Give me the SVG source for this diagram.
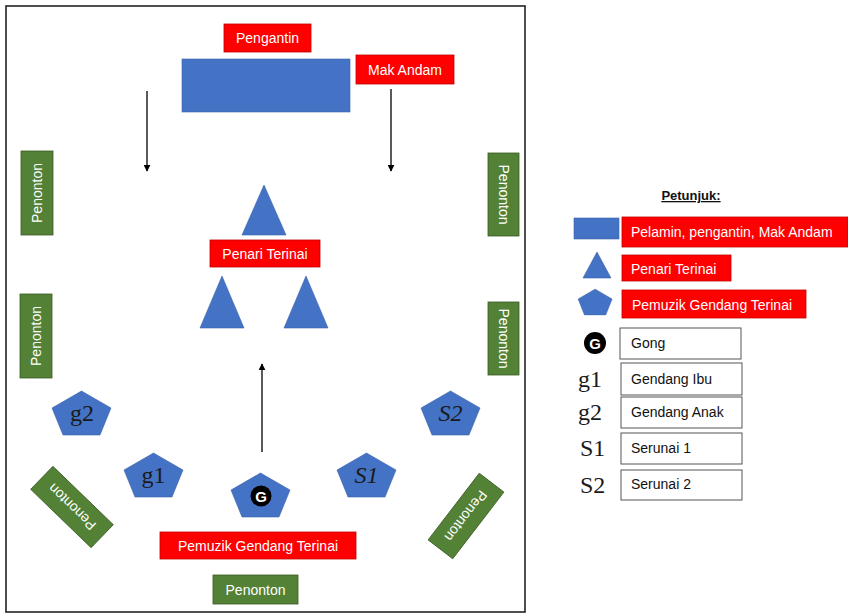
<svg xmlns="http://www.w3.org/2000/svg" xmlns:xlink="http://www.w3.org/1999/xlink" width="848" height="614" viewBox="0 0 848 614">
<style>
.lbl{font-family:"Liberation Sans",Arial,sans-serif;font-size:14px;fill:#fff}
.dark{font-family:"Liberation Sans",Arial,sans-serif;font-size:14px;fill:#111}
.red{fill:#ff0000;stroke:#c00000;stroke-width:0.8}
.grn{fill:#538135;stroke:#3a5a24;stroke-width:0.8}
.blue{fill:#4472c4;stroke:#3a62aa;stroke-width:0.6}
.box{fill:#fff;stroke:#555;stroke-width:1}
.sym{font-family:"Liberation Serif","Times New Roman",serif;font-size:24px;fill:#1a1a1a}
.conn{stroke:#000;stroke-width:1.3;fill:none;marker-end:url(#ah)}
</style>
<defs>
<marker id="ah" viewBox="0 0 10 10" refX="9" refY="5" markerWidth="7" markerHeight="7" orient="auto" markerUnits="userSpaceOnUse">
<path d="M0,0 L10,5 L0,10 z" fill="#000"/>
</marker>
<polygon id="pent" points="29.5,0 59,17 48,44 11,44 0,17"/>
<polygon id="tri" points="22,0 44,50 0,50"/>
</defs>
<rect x="6" y="6" width="519" height="606" fill="#fff" stroke="#222" stroke-width="1.6"/>

<g id="pengantin"><rect class="red" x="224" y="24" width="87" height="28"/><text class="lbl" x="267.5" y="43" text-anchor="middle">Pengantin</text></g>
<g id="pelamin"><rect class="blue" x="182" y="59" width="168" height="53"/></g>
<g id="makandam"><rect class="red" x="356" y="55" width="98" height="29"/><text class="lbl" x="405" y="74.5" text-anchor="middle">Mak Andam</text></g>

<g id="penonton-l1"><rect class="grn" x="21" y="151" width="32" height="84"/><text class="lbl" transform="translate(42,193) rotate(-90)" text-anchor="middle">Penonton</text></g>
<g id="penonton-l2"><rect class="grn" x="20" y="294" width="32" height="84"/><text class="lbl" transform="translate(41,336) rotate(-90)" text-anchor="middle">Penonton</text></g>
<g id="penonton-r1"><rect class="grn" x="488" y="153" width="31" height="83"/><text class="lbl" transform="translate(498.5,194.5) rotate(90)" text-anchor="middle">Penonton</text></g>
<g id="penonton-r2"><rect class="grn" x="488" y="302" width="31" height="73"/><text class="lbl" transform="translate(498.5,338.5) rotate(90)" text-anchor="middle">Penonton</text></g>

<g id="penari-1"><use xlink:href="#tri" class="blue" x="242" y="185"/></g>
<g id="penari-label"><rect class="red" x="210" y="240" width="110" height="27"/><text class="lbl" x="265" y="258.5" text-anchor="middle">Penari Terinai</text></g>
<g id="penari-2"><polygon class="blue" points="222,276 244,328 200,328"/></g>
<g id="penari-3"><polygon class="blue" points="306,276 328,328 284,328"/></g>

<g id="g2"><use xlink:href="#pent" class="blue" x="52" y="391"/><text class="sym" x="82" y="421" text-anchor="middle">g2</text></g>
<g id="g1"><use xlink:href="#pent" class="blue" x="124" y="453"/><text class="sym" x="153.5" y="483" text-anchor="middle">g1</text></g>
<g id="gong"><use xlink:href="#pent" class="blue" x="231" y="473"/><circle cx="261" cy="496" r="10.5" fill="#000"/><text x="261" y="501.5" text-anchor="middle" font-family="Liberation Sans,Arial,sans-serif" font-weight="bold" font-size="15" fill="#fff">G</text></g>
<g id="s1"><use xlink:href="#pent" class="blue" x="337" y="453"/><text class="sym" x="366.5" y="483" text-anchor="middle" font-style="italic">S1</text></g>
<g id="s2"><use xlink:href="#pent" class="blue" x="421" y="391"/><text class="sym" x="450.5" y="421" text-anchor="middle" font-style="italic">S2</text></g>

<g id="penonton-bl"><g transform="translate(72,507) rotate(224)"><rect class="grn" x="-42" y="-16" width="84" height="32"/><text class="lbl" x="0" y="5" text-anchor="middle">Penonton</text></g></g>
<g id="penonton-br"><g transform="translate(466,516) rotate(127.5)"><rect class="grn" x="-42" y="-15.5" width="84" height="31"/><text class="lbl" x="0" y="5" text-anchor="middle">Penonton</text></g></g>

<g id="pemuzik"><rect class="red" x="160" y="532" width="196" height="27"/><text class="lbl" x="258" y="550.5" text-anchor="middle">Pemuzik Gendang Terinai</text></g>
<g id="penonton-b"><rect class="grn" x="213" y="575" width="85" height="29"/><text class="lbl" x="255.5" y="594.5" text-anchor="middle">Penonton</text></g>

<g id="connectors">
<line class="conn" x1="147" y1="91" x2="147" y2="171"/>
<line class="conn" x1="391" y1="89" x2="391" y2="171"/>
<line class="conn" x1="262" y1="452" x2="262" y2="364"/>
</g>

<g id="legend">
<text x="691" y="200" text-anchor="middle" font-family="Liberation Sans,Arial,sans-serif" font-size="13" font-weight="bold" fill="#111" text-decoration="underline">Petunjuk:</text>
<rect class="blue" x="574" y="218" width="45" height="21"/>
<rect class="red" x="622" y="217" width="226" height="30"/><text class="lbl" x="631" y="236.5">Pelamin, pengantin, Mak Andam</text>
<polygon class="blue" points="597,252 611,278 583,278"/>
<rect class="red" x="622" y="255" width="109" height="26"/><text class="lbl" x="631" y="273.5">Penari Terinai</text>
<use xlink:href="#pent" class="blue" transform="translate(578,289) scale(0.58,0.59)"/>
<rect class="red" x="622" y="290" width="184" height="28"/><text class="lbl" x="632" y="309.5">Pemuzik Gendang Terinai</text>
<circle cx="595" cy="343" r="11" fill="#000"/><text x="595" y="348.5" text-anchor="middle" font-family="Liberation Sans,Arial,sans-serif" font-weight="bold" font-size="15" fill="#fff">G</text>
<rect class="box" x="620" y="328" width="121" height="31"/><text class="dark" x="631" y="348">Gong</text>
<text class="sym" x="578" y="387">g1</text>
<rect class="box" x="621" y="363" width="121" height="32"/><text class="dark" x="631" y="384">Gendang Ibu</text>
<text class="sym" x="578" y="420">g2</text>
<rect class="box" x="621" y="397" width="121" height="31"/><text class="dark" x="631" y="417">Gendang Anak</text>
<text class="sym" x="580" y="456">S1</text>
<rect class="box" x="621" y="433" width="121" height="31"/><text class="dark" x="631" y="453">Serunai 1</text>
<text class="sym" x="580" y="493">S2</text>
<rect class="box" x="621" y="470" width="121" height="30"/><text class="dark" x="631" y="489">Serunai 2</text>
</g>
</svg>
